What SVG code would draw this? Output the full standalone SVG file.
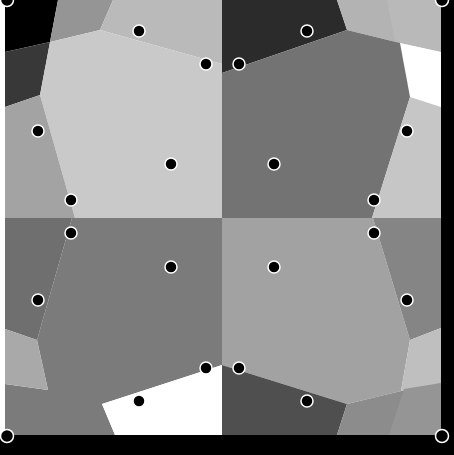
<svg xmlns="http://www.w3.org/2000/svg" width="454" height="455" viewBox="0 0 454 455">
<style>
.site{fill:#000;stroke:#fff;stroke-width:1.5}
.corner{fill:#000;stroke:#fff;stroke-width:1.5}
</style>
<rect x="0" y="0" width="454" height="455" fill="#fff"/>
<g id="cells">
<polygon points="5,0 58,0 50,42 5,52" fill="#000"/>
<polygon points="5,52 50,42 40,95 5,107" fill="#383838"/>
<polygon points="58,0 113,0 100,30 50,42" fill="#959595"/>
<polygon points="113,0 222,0 222,64 100,30" fill="#bababa"/>
<polygon points="50,42 100,30 222,64 222,218 75,218 40,95" fill="#c9c9c9"/>
<polygon points="5,107 40,95 75,218 5,218" fill="#a3a3a3"/>
<polygon points="222,0 337,0 347,30 222,73" fill="#2b2b2b"/>
<polygon points="337,0 441,0 441,52 400,43 347,30" fill="#b3b3b3"/>
<polygon points="387,0 441,0 441,52 400,43 395,42" fill="#b9b9b9"/>
<polygon points="400,43 441,52 441,107 410,97" fill="#fff"/>
<polygon points="222,73 347,30 400,43 410,97 372,218 222,218" fill="#737373"/>
<polygon points="410,97 441,107 441,218 372,218" fill="#c6c6c6"/>
<polygon points="72,218 222,218 222,365 102,404 115,435 5,435 5,384 48,390 37,340" fill="#7b7b7b"/>
<polygon points="5,218 72,218 37,340 5,329" fill="#6f6f6f"/>
<polygon points="5,329 37,340 48,390 5,384" fill="#a9a9a9"/>
<polygon points="102,404 222,365 222,435 115,435" fill="#fff"/>
<polygon points="222,218 373,218 410,340 401,391 347,404 222,365" fill="#a2a2a2"/>
<polygon points="373,218 441,218 441,328 410,340" fill="#858585"/>
<polygon points="410,340 441,328 441,383 401,391" fill="#bfbfbf"/>
<polygon points="222,365 347,404 337,435 222,435" fill="#4f4f4f"/>
<polygon points="347,404 401,391 441,383 441,435 337,435" fill="#8c8c8c"/>
<polygon points="404,389 441,383 441,435 389,435" fill="#959595"/>
</g>
<rect x="441" y="0" width="13" height="455" fill="#000"/>
<rect x="0" y="435" width="454" height="20" fill="#000"/>
<g id="sites">
<circle class="site" cx="139" cy="31" r="6"/>
<circle class="site" cx="206" cy="64" r="6"/>
<circle class="site" cx="38" cy="131" r="6"/>
<circle class="site" cx="171" cy="164" r="6"/>
<circle class="site" cx="71" cy="200" r="6"/>
<circle class="site" cx="307" cy="31" r="6"/>
<circle class="site" cx="239" cy="64" r="6"/>
<circle class="site" cx="407" cy="131" r="6"/>
<circle class="site" cx="274" cy="164" r="6"/>
<circle class="site" cx="374" cy="200" r="6"/>
<circle class="site" cx="71" cy="233" r="6"/>
<circle class="site" cx="171" cy="267" r="6"/>
<circle class="site" cx="38" cy="300" r="6"/>
<circle class="site" cx="206" cy="368" r="6"/>
<circle class="site" cx="139" cy="401" r="6"/>
<circle class="site" cx="274" cy="267" r="6"/>
<circle class="site" cx="374" cy="233" r="6"/>
<circle class="site" cx="407" cy="300" r="6"/>
<circle class="site" cx="239" cy="368" r="6"/>
<circle class="site" cx="307" cy="401" r="6"/>
<circle class="corner" cx="7" cy="0" r="6.5"/>
<circle class="corner" cx="442" cy="0" r="6.5"/>
<circle class="corner" cx="7" cy="436" r="6.5"/>
<circle class="corner" cx="442" cy="436" r="6.5"/>
</g>
</svg>
